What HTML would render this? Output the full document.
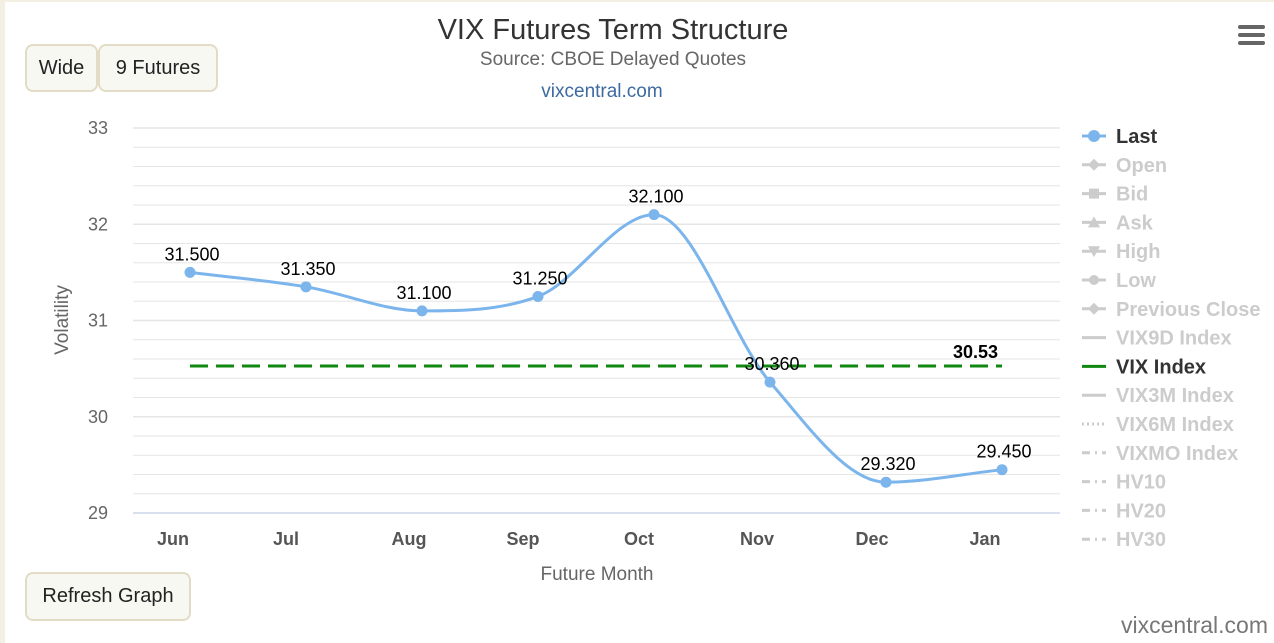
<!DOCTYPE html><html><head><meta charset="utf-8"><style>
body{margin:0;width:1274px;height:643px;overflow:hidden;background:#fff;font-family:"Liberation Sans","DejaVu Sans",sans-serif}
.btn{position:absolute;background:#f8f8f2;border:2px solid #e2dcc6;border-radius:8px;font-size:20px;color:#222;box-sizing:border-box;text-align:center}
</style></head><body>
<div style="position:absolute;left:0;top:0;width:5px;height:643px;background:#f3f0e3"></div>
<div style="position:absolute;left:0;top:0;width:1274px;height:2px;background:#f3f0e3"></div>
<div class="btn" style="left:25px;top:44px;width:73px;height:48px;line-height:44px">Wide</div>
<div class="btn" style="left:98px;top:44px;width:120px;height:48px;line-height:44px">9 Futures</div>
<div class="btn" style="left:25px;top:572px;width:166px;height:49px;line-height:45px">Refresh Graph</div>
<svg width="1274" height="643" style="position:absolute;left:0;top:0" id="s">
<text x="613" y="39" text-anchor="middle" font-size="29" fill="#333">VIX Futures Term Structure</text>
<text x="613" y="65" text-anchor="middle" font-size="19" fill="#666">Source: CBOE Delayed Quotes</text>
<text x="602" y="97" text-anchor="middle" font-size="19" fill="#3d6aa0">vixcentral.com</text>
<g fill="#666"><rect x="1238" y="25" width="27" height="4" rx="2"/><rect x="1238" y="33" width="27" height="4" rx="2"/><rect x="1238" y="41" width="27" height="4" rx="2"/></g>
<g id="grid"></g>
<text transform="translate(68,320) rotate(-90)" text-anchor="middle" font-size="19" fill="#666">Volatility</text>
<text x="597" y="580" text-anchor="middle" font-size="19" fill="#666">Future Month</text>
<g font-size="18" font-weight="bold" fill="#555" text-anchor="middle">
<text x="173" y="545">Jun</text><text x="286" y="545">Jul</text><text x="409" y="545">Aug</text><text x="523" y="545">Sep</text><text x="639" y="545">Oct</text><text x="757" y="545">Nov</text><text x="872" y="545">Dec</text><text x="985" y="545">Jan</text></g>
<line x1="190" y1="366" x2="1002" y2="366" stroke="#118811" stroke-width="3" stroke-dasharray="18,8"/>
<path id="ln" fill="none" stroke="#7cb5ec" stroke-width="3"/>
<g id="pts"></g>
<text x="953" y="358" font-size="18" font-weight="bold" fill="#000">30.53</text>
<g id="leg" font-size="20" font-weight="bold" fill="#ccc"></g>
<text x="1268" y="633" text-anchor="end" font-size="23" fill="#777">vixcentral.com</text>
</svg>
<script>
var g=document.getElementById('grid'),h='';
for(var i=0;i<=20;i++){var y=128+i*19.25;h+='<line x1="133" x2="1060" y1="'+y+'" y2="'+y+'" stroke="'+(i==20?'#ccd6eb':'#e6e6e6')+'" stroke-width="'+(i%5==0?1.5:1)+'"/>';}
for(var k=0;k<5;k++)h+='<text x="108" y="'+(134+k*96.25)+'" text-anchor="end" font-size="18" fill="#666">'+(33-k)+'</text>';
g.innerHTML=h;
var v=[31.5,31.35,31.1,31.25,32.1,30.36,29.32,29.45],P=v.map(function(a,i){return[190+i*116,128+(33-a)*96.25]});
var n=P.length,dx=116,del=[],m=[];
for(var i=0;i<n-1;i++)del.push((P[i+1][1]-P[i][1])/dx);
m[0]=del[0];m[n-1]=del[n-2];
for(var i=1;i<n-1;i++){m[i]=(del[i-1]*del[i]<=0)?0:(del[i-1]+del[i])/2;}
for(var i=0;i<n-1;i++){if(del[i]==0){m[i]=m[i+1]=0;continue;}var a=m[i]/del[i],b=m[i+1]/del[i],s=a*a+b*b;if(s>9){var t=3/Math.sqrt(s);m[i]=t*a*del[i];m[i+1]=t*b*del[i];}}
var d='M'+P[0];
for(var i=0;i<n-1;i++){var c=dx/3;d+=' C'+(P[i][0]+c)+','+(P[i][1]+m[i]*c)+' '+(P[i+1][0]-c)+','+(P[i+1][1]-m[i+1]*c)+' '+P[i+1];}
document.getElementById('ln').setAttribute('d',d);
var pt='';P.forEach(function(p,i){pt+='<circle cx="'+p[0]+'" cy="'+p[1]+'" r="5.5" fill="#7cb5ec"/><text x="'+(p[0]+2)+'" y="'+(p[1]-12)+'" text-anchor="middle" font-size="18" fill="#000">'+v[i].toFixed(3)+'</text>';});
document.getElementById('pts').innerHTML=pt;
var L=['Last','Open','Bid','Ask','High','Low','Previous Close','VIX9D Index','VIX Index','VIX3M Index','VIX6M Index','VIXMO Index','HV10','HV20','HV30'],l='';
L.forEach(function(nm,i){var y=136+i*28.8,c=i==0?'#7cb5ec':i==8?'#118811':'#ccc',da=i==10?'2,3':i>=11?'8,5,2,5':'';
l+='<line x1="1082" x2="1106" y1="'+y+'" y2="'+y+'" stroke="'+c+'" stroke-width="3" '+(da?'stroke-dasharray="'+da+'"':'')+'/>';
var x=1094;
if(i==0||i==5)l+='<circle cx="'+x+'" cy="'+y+'" r="'+(i==0?6:5)+'" fill="'+c+'"/>';
else if(i==2)l+='<rect x="1089" y="'+(y-5)+'" width="10" height="10" fill="#ccc"/>';
else if(i==1||i==6)l+='<polygon points="'+x+','+(y-6)+' '+(x+6)+','+y+' '+x+','+(y+6)+' '+(x-6)+','+y+'" fill="#ccc"/>';
else if(i==3)l+='<polygon points="'+x+','+(y-6)+' '+(x+6)+','+(y+5)+' '+(x-6)+','+(y+5)+'" fill="#ccc"/>';
else if(i==4)l+='<polygon points="'+x+','+(y+6)+' '+(x+6)+','+(y-5)+' '+(x-6)+','+(y-5)+'" fill="#ccc"/>';
l+='<text x="1116" y="'+(y+7)+'" '+((i==0||i==8)?'fill="#333"':'')+'>'+nm+'</text>';});
document.getElementById('leg').innerHTML=l;
</script></body></html>
